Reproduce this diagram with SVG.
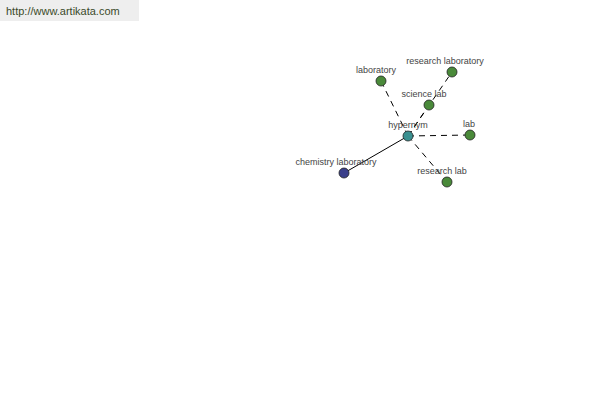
<svg xmlns="http://www.w3.org/2000/svg" width="600" height="400" viewBox="0 0 600 400">
<style>
.lbl{font-family:"Liberation Sans",Arial,sans-serif;font-size:9px;fill:#444;text-anchor:middle}
.node{stroke:#222;stroke-width:0.8}
.syn{fill:#4a8a3a}
.hyp{fill:#3a9090}
.hypo{fill:#3a3f8a}
.dash{stroke:#000;stroke-width:1;stroke-dasharray:6,5;fill:none}
.solid{stroke:#000;stroke-width:1;fill:none}
</style>
<rect x="0" y="0" width="139" height="21" fill="#eeeeee"/>
<text x="6" y="15" style="font-family:'Liberation Sans',Arial,sans-serif;font-size:11px;fill:#3a4a2a">http://www.artikata.com</text>
<g id="connectors">
<line class="dash" x1="408" y1="136" x2="381" y2="81"/>
<line class="dash" x1="408" y1="136" x2="452" y2="72"/>
<line class="dash" x1="408" y1="136" x2="429" y2="105"/>
<line class="dash" x1="408" y1="136" x2="470" y2="135"/>
<line class="dash" x1="408" y1="136" x2="447" y2="182"/>
<line class="solid" x1="408" y1="136" x2="344" y2="173"/>
</g>
<g id="laboratory"><circle class="node syn" cx="381" cy="81" r="5"/><text class="lbl" x="376" y="73">laboratory</text></g>
<g id="research-laboratory"><circle class="node syn" cx="452" cy="72" r="5"/><text class="lbl" x="445" y="64">research laboratory</text></g>
<g id="science-lab"><circle class="node syn" cx="429" cy="105" r="5"/><text class="lbl" x="424" y="97">science lab</text></g>
<g id="lab"><circle class="node syn" cx="470" cy="135" r="5"/><text class="lbl" x="469" y="127">lab</text></g>
<g id="research-lab"><circle class="node syn" cx="447" cy="182" r="5"/><text class="lbl" x="442" y="174">research lab</text></g>
<g id="chemistry-laboratory"><circle class="node hypo" cx="344" cy="173" r="5"/><text class="lbl" x="336" y="165">chemistry laboratory</text></g>
<g id="hypernym"><circle class="node hyp" cx="408" cy="136" r="5"/><text class="lbl" x="408" y="128">hypernym</text></g>
</svg>
